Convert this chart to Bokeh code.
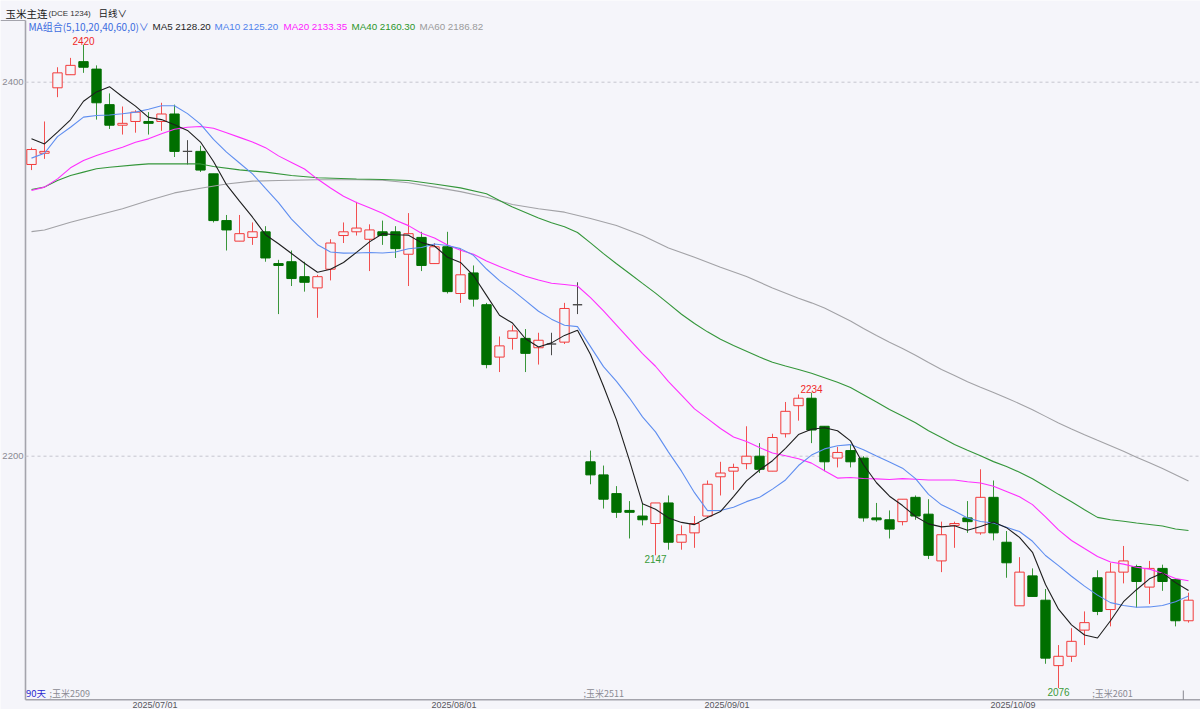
from bokeh.plotting import figure
from bokeh.models import Range1d, Label
from bokeh.embed import file_html
from bokeh.resources import INLINE

# ---------------- data (daily candles, 90 trading days) ----------------
opens = [2356, 2362, 2397, 2404, 2411, 2407, 2388, 2377, 2379, 2379,
         2379, 2383, 2363, 2363, 2351, 2326, 2315, 2317, 2320, 2303,
         2304, 2296, 2290, 2300, 2318, 2320, 2316, 2320, 2320, 2308,
         2317, 2303, 2312, 2287, 2298, 2281, 2253, 2263, 2263, 2258,
         2260, 2261, 2281, 2197, 2190, 2180, 2171, 2168, 2164, 2175,
         2154, 2159, 2168, 2189, 2192, 2196, 2200, 2192, 2212, 2227,
         2231, 2216, 2199, 2203, 2199, 2167, 2166, 2165, 2178, 2169,
         2144, 2163, 2167, 2159, 2178, 2154, 2120, 2136, 2123, 2088,
         2093, 2107, 2135, 2118, 2138, 2141, 2130, 2140, 2134, 2112]
highs = [2365, 2379, 2408, 2413, 2420, 2409, 2394, 2387, 2385, 2384,
         2389, 2388, 2369, 2366, 2351, 2329, 2329, 2325, 2323, 2305,
         2310, 2304, 2297, 2316, 2325, 2336, 2324, 2326, 2323, 2330,
         2320, 2314, 2320, 2311, 2302, 2282, 2264, 2270, 2268, 2266,
         2266, 2282, 2293, 2203, 2195, 2184, 2176, 2175, 2175, 2179,
         2163, 2168, 2187, 2197, 2196, 2216, 2207, 2212, 2229, 2233,
         2234, 2216, 2205, 2206, 2200, 2175, 2171, 2177, 2179, 2177,
         2165, 2165, 2176, 2193, 2187, 2160, 2146, 2140, 2129, 2099,
         2108, 2117, 2139, 2143, 2152, 2142, 2144, 2142, 2134, 2127]
lows = [2353, 2359, 2392, 2404, 2405, 2380, 2375, 2372, 2373, 2372,
        2374, 2360, 2356, 2352, 2325, 2310, 2315, 2313, 2304, 2276,
        2291, 2288, 2274, 2294, 2314, 2318, 2299, 2313, 2306, 2291,
        2299, 2303, 2287, 2282, 2280, 2247, 2245, 2257, 2245, 2249,
        2254, 2260, 2276, 2185, 2172, 2167, 2156, 2163, 2147, 2150,
        2150, 2151, 2167, 2179, 2182, 2193, 2191, 2192, 2210, 2219,
        2207, 2192, 2194, 2194, 2165, 2165, 2156, 2163, 2166, 2145,
        2138, 2151, 2159, 2158, 2155, 2135, 2120, 2125, 2089, 2076,
        2090, 2099, 2115, 2109, 2132, 2119, 2121, 2128, 2109, 2111]
closes = [2364, 2363, 2405, 2409, 2408, 2389, 2377, 2378, 2384, 2378,
          2383, 2363, 2363, 2353, 2326, 2321, 2319, 2320, 2306, 2302,
          2295, 2293, 2296, 2314, 2320, 2322, 2321, 2318, 2311, 2319,
          2302, 2312, 2288, 2297, 2284, 2249, 2259, 2267, 2255, 2262,
          2260, 2279, 2281, 2190, 2177, 2170, 2170, 2166, 2175, 2154,
          2158, 2164, 2185, 2191, 2194, 2200, 2193, 2210, 2224, 2231,
          2214, 2197, 2202, 2197, 2167, 2166, 2161, 2177, 2168, 2147,
          2158, 2164, 2165, 2178, 2159, 2143, 2138, 2125, 2092, 2093,
          2101, 2111, 2117, 2138, 2144, 2133, 2140, 2133, 2112, 2123]

ma5 = [2369.7, 2367.0, 2373.3, 2379.9, 2389.8, 2394.8, 2397.6, 2392.2, 2387.2, 2381.2,
       2380.0, 2377.2, 2374.2, 2368.0, 2357.6, 2345.2, 2336.4, 2327.8, 2318.4, 2313.6,
       2308.4, 2303.2, 2298.4, 2300.0, 2303.6, 2309.0, 2314.6, 2319.0, 2318.4, 2318.2,
       2314.2, 2312.4, 2306.4, 2303.6, 2296.6, 2286.0, 2275.4, 2271.2, 2262.8, 2258.4,
       2260.6, 2264.6, 2267.4, 2254.4, 2237.4, 2219.4, 2197.6, 2174.6, 2171.6, 2167.0,
       2164.6, 2163.4, 2167.2, 2170.4, 2178.4, 2186.8, 2192.6, 2197.6, 2204.2, 2211.6,
       2214.4, 2215.2, 2213.6, 2208.2, 2195.4, 2185.8, 2178.6, 2173.6, 2167.8, 2163.8,
       2162.2, 2162.8, 2160.4, 2162.4, 2164.8, 2161.8, 2156.6, 2148.6, 2131.4, 2118.2,
       2109.8, 2104.4, 2102.8, 2112.0, 2122.2, 2128.6, 2134.4, 2137.6, 2132.4, 2128.2]
ma10 = [2359.4, 2362.0, 2370.9, 2375.9, 2381.3, 2382.2, 2382.5, 2383.1, 2384.0, 2385.5,
        2387.4, 2387.4, 2383.2, 2377.6, 2369.4, 2362.6, 2356.8, 2351.0, 2343.2, 2335.6,
        2326.8, 2319.8, 2313.1, 2309.2, 2308.6, 2308.7, 2308.9, 2308.7, 2309.2, 2310.9,
        2311.6, 2313.5, 2312.7, 2311.0, 2307.4, 2300.1, 2293.9, 2288.8, 2283.2, 2277.5,
        2273.3, 2270.0, 2269.3, 2258.6, 2247.9, 2240.0, 2231.1, 2221.0, 2213.0, 2202.2,
        2192.0, 2180.5, 2170.9, 2171.0, 2172.7, 2175.7, 2178.0, 2182.4, 2187.3, 2195.0,
        2200.6, 2203.9, 2205.6, 2206.2, 2203.5, 2200.1, 2196.9, 2193.6, 2188.0, 2179.6,
        2174.0, 2170.7, 2167.0, 2165.1, 2164.3, 2162.0, 2159.7, 2154.5, 2146.9, 2141.5,
        2135.8, 2130.5, 2125.7, 2121.7, 2120.2, 2119.2, 2119.4, 2120.2, 2122.2, 2125.2]
ma20 = [2342.1, 2343.9, 2348.3, 2354.2, 2358.1, 2360.8, 2363.1, 2365.2, 2367.9, 2369.7,
        2372.4, 2374.8, 2375.9, 2376.3, 2375.4, 2373.0, 2370.5, 2368.0, 2365.0, 2360.6,
        2357.1, 2353.6, 2348.2, 2343.4, 2339.0, 2335.7, 2332.9, 2329.9, 2326.2, 2323.3,
        2319.2, 2316.7, 2312.9, 2310.1, 2308.0, 2304.4, 2301.4, 2298.8, 2296.2, 2294.2,
        2292.5, 2291.8, 2291.0, 2284.8, 2277.7, 2270.1, 2262.5, 2254.9, 2248.1, 2239.9,
        2232.7, 2225.3, 2220.1, 2214.8, 2210.3, 2207.9, 2204.6, 2201.7, 2200.2, 2198.6,
        2196.3, 2192.2, 2188.3, 2188.6, 2188.1, 2187.9, 2187.5, 2188.0, 2187.7, 2187.3,
        2187.3, 2187.3, 2186.3, 2185.7, 2183.9, 2181.1, 2178.3, 2174.1, 2167.5, 2160.6,
        2154.9, 2150.6, 2146.4, 2143.4, 2142.3, 2140.6, 2139.6, 2137.4, 2134.6, 2133.4]
ma40_idx = [0, 1, 2, 3, 4, 5, 6, 8, 9, 13, 14, 16, 18, 20, 22, 25, 27, 29, 31, 33, 35, 36, 37] + list(range(39, 90))
ma40 = [2342.6, 2343.9, 2347.4, 2350.1, 2351.9, 2353.7, 2354.5, 2355.8, 2356.3, 2356.3,
        2354.9, 2353.1, 2351.9, 2350.1, 2348.9, 2348.2, 2348.0, 2347.4, 2345.6, 2343.5,
        2340.3, 2336.7, 2333.2,
        2327.4, 2324.8, 2322.7, 2319.6, 2314.1, 2308.3, 2302.9, 2297.7, 2292.4, 2287.2,
        2281.6, 2275.9, 2271.0, 2266.5, 2262.5, 2259.2, 2256.1, 2253.0, 2250.2, 2248.2,
        2246.4, 2244.4, 2242.0, 2239.6, 2236.7, 2232.9, 2229.0, 2225.0, 2221.5, 2217.9,
        2213.6, 2210.0, 2206.3, 2203.2, 2200.2, 2197.1, 2194.5, 2191.4, 2187.9, 2183.8,
        2179.6, 2175.6, 2171.4, 2167.3, 2166.0, 2165.2, 2164.3, 2163.5, 2162.7, 2161.1,
        2160.3]
ma60_idx = [0, 1, 3, 5, 7, 9, 11, 13, 15, 17, 19, 22, 25, 27, 29, 31, 33, 35, 37, 39,
            41, 43, 45, 47, 49, 51, 53, 55, 57] + list(range(59, 90))
ma60 = [2320.1, 2321.0, 2325.1, 2328.7, 2332.3, 2336.7, 2340.8, 2343.3, 2345.6, 2347.1,
        2347.4, 2347.8, 2347.8, 2347.6, 2346.2, 2343.9, 2341.5, 2338.5, 2334.6, 2332.3,
        2330.5, 2327.1, 2323.4, 2318.0, 2311.3, 2306.4, 2301.1, 2296.1, 2290.0,
        2284.5, 2282.0, 2279.2, 2275.8, 2272.3, 2268.3, 2264.5, 2260.9, 2257.6, 2254.0,
        2250.1, 2246.4, 2243.1, 2239.8, 2236.9, 2234.1, 2231.1, 2228.1, 2224.8, 2221.3,
        2217.8, 2214.6, 2211.5, 2208.5, 2205.6, 2202.7, 2199.5, 2196.5, 2193.4, 2190.1,
        2186.8]

ma_names = ["MA5", "MA10", "MA20", "MA40", "MA60"]
ma_last = [2128.20, 2125.20, 2133.35, 2160.30, 2186.82]
price_ticks = [2400, 2200]
date_idx = [10, 33, 54, 76]
date_labels = ["2025/07/01", "2025/08/01", "2025/09/01", "2025/10/09"]
contract_idx = [1.38, 42.46, 81.6]
contract_labels = [";玉米2509", ";玉米2511", ";玉米2601"]
extreme_idx = [4, 60, 48, 79]
extreme_kind = ["high", "high", "low", "low"]
end_mark_idx = [88.6]

# ---------------- style / geometry ----------------
BG = "#f5f5fa"
RED = "#f23a3a"
RED_WICK = "#f25050"
GREEN = "#006f00"
GREEN_WICK = "#3a963a"
DOJI = "#4a4a4a"
MA_COLORS = ["#1e1e1e", "#5f8ef0", "#ff2eff", "#34963a", "#a2a2a6"]
LEG_COLORS = ["#1e1e1e", "#4f82ec", "#ff1aff", "#2a962a", "#9a9a9a"]
AXIS = "#a4a4ac"

W, H = 1200, 709
SPACING = 13.0          # px per trading day
FIRST_X = 31.0          # px of the first candle
PX_PER_UNIT = 1.87      # px per price unit
REF_PRICE, REF_Y = 2400, 81.7
X0 = -FIRST_X / SPACING
X1 = (W - FIRST_X) / SPACING
Y1 = REF_PRICE + REF_Y / PX_PER_UNIT
Y0 = Y1 - H / PX_PER_UNIT


def dx(px):
    return (px - FIRST_X) / SPACING


def dy(py):
    return REF_PRICE - (py - REF_Y) / PX_PER_UNIT


p = figure(width=W, height=H, x_range=Range1d(X0, X1), y_range=Range1d(Y0, Y1),
           x_axis_location=None, y_axis_location=None, toolbar_location=None,
           output_backend="svg", min_border=0, min_border_left=0, min_border_right=0,
           min_border_top=0, min_border_bottom=0,
           background_fill_color=BG, border_fill_color=BG, outline_line_color=None)
p.grid.visible = False

# frame lines
FL, FT, FB = dx(25), dy(20), dy(699.3)
p.segment(x0=[FL], y0=[FT], x1=[FL], y1=[FB], line_color=AXIS, line_width=1.6)
p.segment(x0=[FL], y0=[FB], x1=[X1], y1=[FB], line_color=AXIS, line_width=1.6)
p.segment(x0=[X0], y0=[FT], x1=[FL], y1=[FT], line_color=AXIS, line_width=1.2)
# dashed price grid
p.segment(x0=[FL] * len(price_ticks), y0=price_ticks, x1=[X1] * len(price_ticks), y1=price_ticks,
          line_color="#c6c6ce", line_width=1, line_dash="3 3")
# end marker tick on the bottom axis
p.segment(x0=end_mark_idx, y0=[FB] * len(end_mark_idx), x1=end_mark_idx,
          y1=[dy(690)] * len(end_mark_idx), line_color="#888890", line_width=1)

# ---------------- candles ----------------
n = len(closes)
idx = list(range(n))
BW = 0.72
up = [i for i in idx if closes[i] > opens[i]]
dn = [i for i in idx if closes[i] < opens[i]]
dj = [i for i in idx if closes[i] == opens[i]]


def pick(arr, sel):
    return [arr[i] for i in sel]


p.segment(x0=up, y0=pick(lows, up), x1=up, y1=pick(highs, up), line_color=RED_WICK, line_width=1)
p.vbar(x=up, width=BW, top=pick(closes, up), bottom=pick(opens, up),
       fill_color=BG, line_color=RED, line_width=1)
p.segment(x0=dn, y0=pick(lows, dn), x1=dn, y1=pick(highs, dn), line_color=GREEN_WICK, line_width=1)
p.vbar(x=dn, width=BW, top=pick(opens, dn), bottom=pick(closes, dn),
       fill_color=GREEN, line_color=GREEN, line_width=1)
p.segment(x0=dj, y0=pick(lows, dj), x1=dj, y1=pick(highs, dj), line_color=DOJI, line_width=1)
p.segment(x0=[i - BW / 2 for i in dj], y0=pick(opens, dj), x1=[i + BW / 2 for i in dj],
          y1=pick(opens, dj), line_color=DOJI, line_width=1.4)

# ---------------- moving averages ----------------
p.line(ma60_idx, ma60, line_color=MA_COLORS[4], line_width=1.1)
p.line(ma40_idx, ma40, line_color=MA_COLORS[3], line_width=1.1)
p.line(idx, ma20, line_color=MA_COLORS[2], line_width=1.1)
p.line(idx, ma10, line_color=MA_COLORS[1], line_width=1.1)
p.line(idx, ma5, line_color=MA_COLORS[0], line_width=1.1)


# ---------------- texts ----------------
def add_text(x, y, text, color, size="10px", font="Liberation Sans", align="left", baseline="middle"):
    p.add_layout(Label(x=x, y=y, text=text, text_color=color, text_font_size=size,
                       text_font=font, text_align=align, text_baseline=baseline))


CJK = "Noto Sans CJK SC"
SANS = "Liberation Sans"
# header
add_text(dx(5), dy(12.5), "玉米主连", "#202020", "10.5px", CJK)
add_text(dx(48), dy(12.5), "(DCE 1234)", "#303030", "8px", SANS)
add_text(dx(98), dy(12.5), "日线∨", "#202020", "9.5px", CJK)
# MA legend
add_text(dx(28), dy(25.5), "MA组合(5,10,20,40,60,0)∨", "#3c6ce0", "10px", CJK)
leg_x = [152, 214, 283, 351, 419]
for name, val, col, lx in zip(ma_names, ma_last, LEG_COLORS, leg_x):
    add_text(dx(lx), dy(25.5), f"{name} {val:.2f}", col, "9.8px", SANS)

# price labels
for t in price_ticks:
    add_text(dx(23), t, str(t), "#8a8a92", "9.5px", SANS, align="right")

# extreme labels
for i, kind in zip(extreme_idx, extreme_kind):
    if kind == "high":
        add_text(i, highs[i], str(highs[i]), "#f02828", "10px", SANS,
                 align="center", baseline="bottom")
    else:
        add_text(i, lows[i], str(lows[i]), "#3a9a3a", "10px", SANS,
                 align="center", baseline="top")

# bottom strip labels
add_text(dx(25.5), dy(692.5), "90天", "#2a2ad0", "9.5px", CJK)
for ci, cl in zip(contract_idx, contract_labels):
    add_text(ci, dy(693), cl, "#8a8a92", "9px", CJK)
for di, dl in zip(date_idx, date_labels):
    add_text(di - 0.5, dy(709), dl, "#55555c", "9px", SANS,
             align="center", baseline="bottom")

open("out.html", "w").write(file_html(p, INLINE))
